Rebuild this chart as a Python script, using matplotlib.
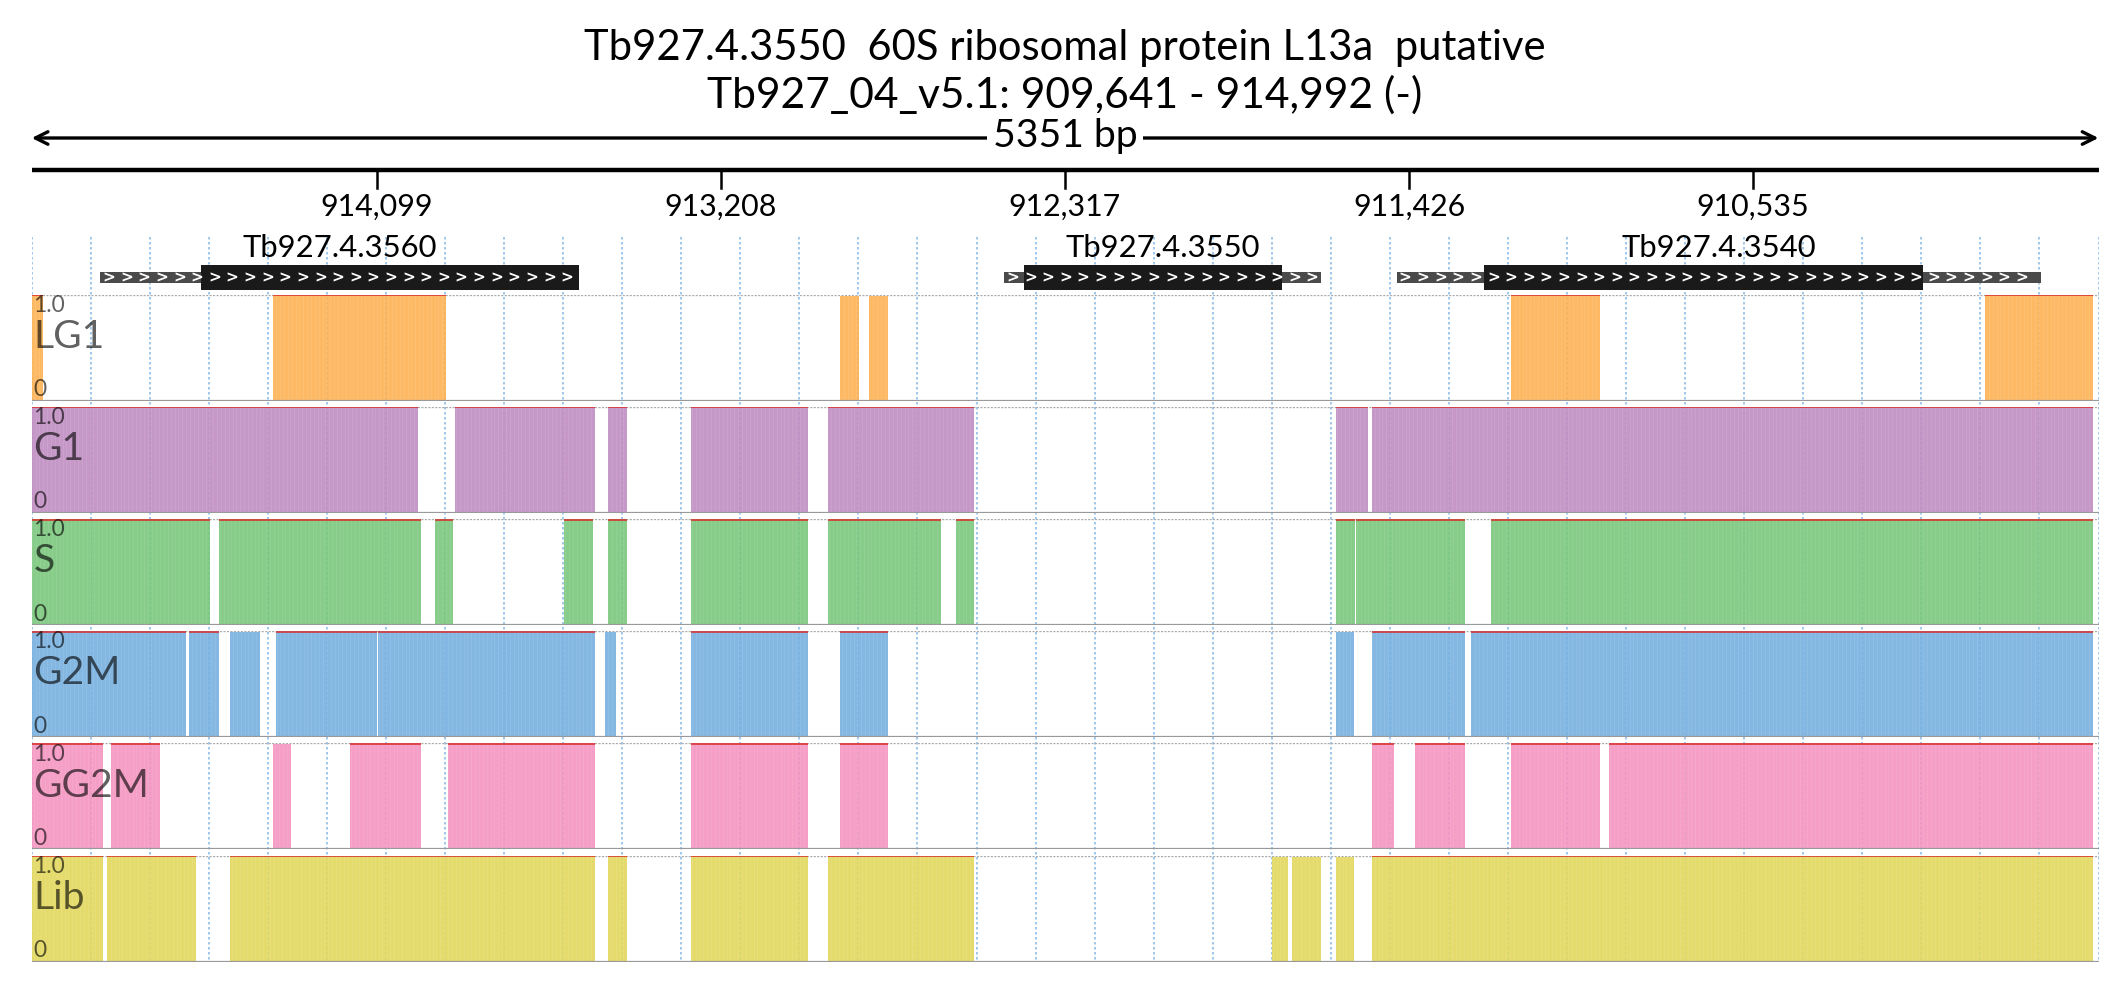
import matplotlib
matplotlib.use("Agg")
import matplotlib.pyplot as plt
from matplotlib.patches import Rectangle
import numpy as np

plt.rcParams['font.family'] = ['Lato', 'DejaVu Sans']

# ---------------- data ----------------
region_left = 914992   # displayed on the left (minus strand view)
region_right = 909641
title_line1 = "Tb927.4.3550  60S ribosomal protein L13a  putative"
title_line2 = "Tb927_04_v5.1: 909,641 - 914,992 (-)"
span_label = "5351 bp"

tick_positions = [914099, 913208, 912317, 911426, 910535]
tick_labels = ["914,099", "913,208", "912,317", "911,426", "910,535"]

gene_names = ["Tb927.4.3560", "Tb927.4.3550", "Tb927.4.3540"]
gene_starts = [914814, 912474, 911458]
gene_ends = [913576, 911655, 909791]
cds_starts = [914554, 912424, 911232]
cds_ends = [913576, 911756, 910095]

track_names = ["LG1", "G1", "S", "G2M", "GG2M", "Lib"]
track_colors = ["#fdb253", "#bf8dc1", "#7ac77c", "#77b1df", "#f494c0", "#e2d85c"]

lg1_segments = [(914992, 914963), (914367, 913919), (912898, 912849),
                (912824, 912774), (911161, 910932), (909935, 909655)]
lg1_values = [1.0, 1.0, 0.99, 0.99, 1.0, 1.0]

g1_segments = [(914992, 913992), (913896, 913534), (913500, 913450),
               (913284, 912983), (912930, 912552), (911616, 911532),
               (911523, 909655)]
g1_values = [1.0, 1.0, 1.0, 1.0, 1.0, 1.0, 1.0]

s_segments = [(914992, 914530), (914506, 913985), (913948, 913900),
              (913615, 913540), (913500, 913450), (913284, 912983),
              (912930, 912638), (912600, 912552), (911616, 911567),
              (911564, 911281), (911213, 909655)]
s_values = [1.0, 1.0, 1.0, 1.0, 1.0, 1.0, 1.0, 1.0, 1.0, 1.0, 1.0]

g2m_segments = [(914992, 914592), (914584, 914507), (914478, 914401),
                (914360, 914098), (914095, 913534), (913509, 913480),
                (913284, 912983), (912898, 912774), (911616, 911568),
                (911523, 911281), (911265, 909655)]
g2m_values = [1.0, 1.0, 0.99, 1.0, 1.0, 0.99, 1.0, 1.0, 0.99, 1.0, 1.0]

gg2m_segments = [(914992, 914807), (914786, 914661), (914367, 914321),
                 (914168, 913985), (913915, 913534), (913284, 912983),
                 (912898, 912774), (911523, 911466), (911411, 911281),
                 (911161, 910932), (910908, 909655)]
gg2m_values = [1.0, 1.0, 0.99, 1.0, 1.0, 1.0, 1.0, 1.0, 1.0, 1.0, 1.0]

lib_segments = [(914992, 914807), (914797, 914567), (914479, 913534),
                (913500, 913450), (913284, 912983), (912930, 912552),
                (911780, 911739), (911729, 911655), (911616, 911568),
                (911523, 909655)]
lib_values = [1.0, 1.0, 1.0, 1.0, 1.0, 1.0, 0.99, 0.99, 0.99, 1.0]

track_segments = [lg1_segments, g1_segments, s_segments,
                  g2m_segments, gg2m_segments, lib_segments]
track_values = [lg1_values, g1_values, s_values,
                g2m_values, gg2m_values, lib_values]

# ---------------- layout (pixels) ----------------
W, H = 2126, 1000
X0, X1 = 31.7, 2098.5
track_tops = [294.7, 406.7, 519.0, 631.0, 743.3, 855.7]
track_h = 106.0

fig = plt.figure(figsize=(W / 100, H / 100), dpi=100)
fig.patch.set_facecolor("white")
renderer = fig.canvas.get_renderer()


def fit_width(texts, target_px):
    """Scale font size of texts so the first one is target_px wide."""
    w = texts[0].get_window_extent(renderer).width
    fs = texts[0].get_fontsize() * target_px / w
    for t in texts:
        t.set_fontsize(fs)


ax0 = fig.add_axes([X0 / W, 0, (X1 - X0) / W, 1], zorder=0)
ax0.set_xlim(region_left, region_right)
ax0.set_ylim(H, 0)
ax0.axis("off")
xmid = (region_left + region_right) / 2

# title
t1 = ax0.text(xmid, 60, title_line1, fontsize=27, ha="center", va="baseline")
fit_width([t1], 963)
t2 = ax0.text(xmid, 108, title_line2, fontsize=27, ha="center", va="baseline")
fit_width([t2], 717)

# span arrow
ax0.annotate("", xy=(region_right, 138), xytext=(region_left, 138),
             arrowprops=dict(arrowstyle="<->,head_length=0.9,head_width=0.45",
                             lw=2.4, color="black", shrinkA=0, shrinkB=0))
ts = ax0.text(xmid, 147, span_label, fontsize=25, ha="center", va="baseline",
              bbox=dict(facecolor="white", edgecolor="none", pad=3.5))
fit_width([ts], 145)

# coordinate axis
ax0.plot([region_left, region_right], [170, 170], color="black", lw=3.2,
         solid_capstyle="round")
tick_texts = []
for tp, tl in zip(tick_positions, tick_labels):
    ax0.plot([tp, tp], [170, 188], color="black", lw=1.8)
    tick_texts.append(ax0.text(tp, 216, tl, fontsize=21, ha="center", va="baseline"))
fit_width(tick_texts, 112)

# vertical dotted grid
for gx in np.linspace(region_left, region_right, 36):
    ax0.plot([gx, gx], [237, 962], color="#8fbfea", lw=1.2, ls=(0, (1.5, 1.5)), zorder=1)

# genes
gene_texts = []
for name, gs, ge, cs, ce in zip(gene_names, gene_starts, gene_ends, cds_starts, cds_ends):
    ax0.add_patch(Rectangle((ge, 272), gs - ge, 11, facecolor="#4a4a4a",
                            edgecolor="none", zorder=3))
    ax0.add_patch(Rectangle((ce, 265), cs - ce, 25, facecolor="#1a1a1a",
                            edgecolor="none", zorder=4))
    for cx in np.arange(gs - 22, ge + 12, -45.6):
        ax0.text(cx, 277.5, ">", color="white", fontsize=11, fontweight="bold",
                 ha="center", va="center", zorder=5, family="DejaVu Sans")
    gene_texts.append(ax0.text((gs + ge) / 2, 257, name, fontsize=21,
                               ha="center", va="baseline"))
fit_width(gene_texts, 194)

# tracks
for i, (name, col, segs, vals) in enumerate(zip(track_names, track_colors,
                                                 track_segments, track_values)):
    top = track_tops[i]
    bottom = top + track_h
    ax = fig.add_axes([X0 / W, 1 - bottom / H, (X1 - X0) / W, track_h / H], zorder=2)
    ax.patch.set_visible(False)
    ax.set_xlim(region_left, region_right)
    ax.set_ylim(0, 1.0)
    ax.axis("off")
    lows = [min(s) for s in segs]
    widths = [abs(s[0] - s[1]) for s in segs]
    ax.bar(lows, vals, width=widths, align="edge", color=col, alpha=0.9,
           edgecolor="none", linewidth=0)
    # fine bin texture inside the covered segments
    for (a, b), v in zip(segs, vals):
        xs = np.arange(min(a, b) + 10, max(a, b), 10)
        ax.vlines(xs, 0, v, color="white", lw=0.5, alpha=0.13)
        if v >= 1.0:
            ax.plot([a, b], [0.995, 0.995], color="#d8332f", lw=1.3,
                    solid_capstyle="butt", alpha=0.9)
    ax.axhline(1.0, color="#aaaaaa", lw=1.0, ls=(0, (1.5, 1.0)), zorder=0)
    ax.axhline(0.0, color="#999999", lw=1.6, zorder=3)
    tc = (0, 0, 0, 0.62)
    t10 = ax.text(0.0008, 0.837, "1.0", transform=ax.transAxes, fontsize=16, color=tc,
                  ha="left", va="baseline")
    tname = ax.text(0.0008, 0.497, name, transform=ax.transAxes, fontsize=29, color=tc,
                    ha="left", va="baseline")
    t0 = ax.text(0.0008, 0.041, "0", transform=ax.transAxes, fontsize=16, color=tc,
                 ha="left", va="baseline")
    if i == 0:
        fit_width([t10], 31.7)
        fit_width([tname], 71)
        small_fs = t10.get_fontsize()
        big_fs = tname.get_fontsize()
    else:
        t10.set_fontsize(small_fs)
        tname.set_fontsize(big_fs)
    t0.set_fontsize(small_fs)

fig.savefig("out.png", dpi=100, facecolor="white")
